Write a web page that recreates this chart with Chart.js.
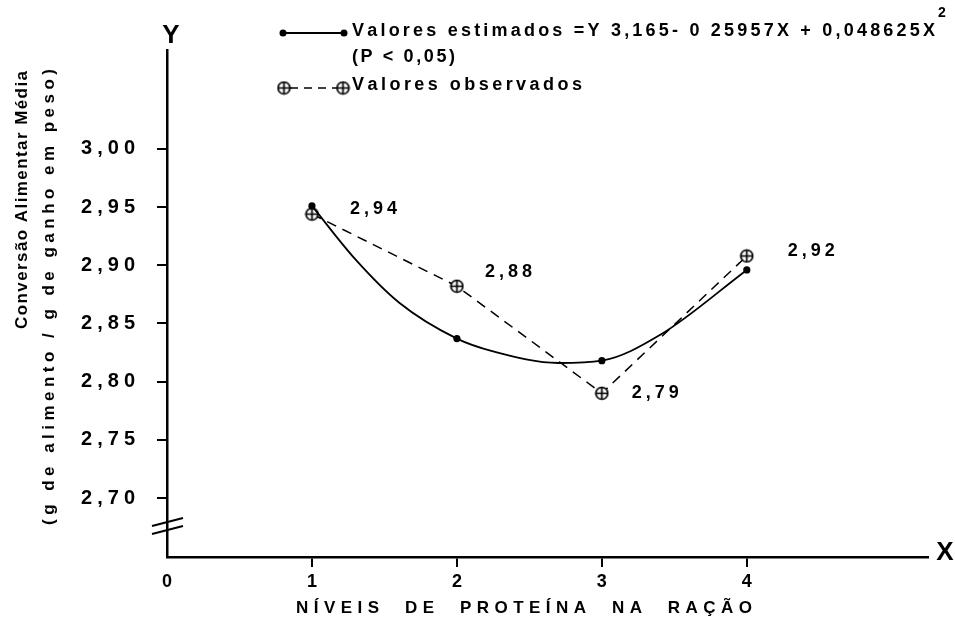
<!DOCTYPE html>
<html>
<head>
<meta charset="utf-8">
<script src="https://cdn.jsdelivr.net/npm/chart.js@4.4.1/dist/chart.umd.min.js"></script>
<style>
html,body{margin:0;padding:0;background:#fff;overflow:hidden;}
#c{display:block;}
</style>
</head>
<body>
<canvas id="c" width="955" height="629"></canvas>
<script>
// ---- data ----
const xLevels = [1, 2, 3, 4];
const estimated = [2.951, 2.837, 2.818, 2.896];
const observed = [2.944, 2.882, 2.790, 2.908];
const observedLabels = ['2,94', '2,88', '2,79', '2,92'];
// points
const curveX = [1, 1.3, 1.6, 2, 2.25, 2.7, 3, 3.4, 4];
const curveY = [2.951, 2.905, 2.868, 2.837, 2.826, 2.816, 2.818, 2.840, 2.896];
const xTickValues = [0, 1, 2, 3, 4];
const yTickValues = [2.70, 2.75, 2.80, 2.85, 2.90, 2.95, 3.00];
const yTickLabels = ['2,70', '2,75', '2,80', '2,85', '2,90', '2,95', '3,00'];
const legendEstimated = 'Valores estimados =Y 3,165- 0 25957X + 0,048625X';
const legendP = '(P < 0,05)';
const legendObserved = 'Valores observados';
const yTitle1 = 'Conversão Alimentar Média';
const yTitle2 = '(g de alimento / g de ganho em peso)';
const xTitle = 'NÍVEIS  DE  PROTEÍNA  NA  RAÇÃO';

const FONT = '"Liberation Sans", Arial, sans-serif';

// crossed-circle marker
function makeMarker(size) {
  const m = document.createElement('canvas');
  m.width = size; m.height = size;
  const g = m.getContext('2d');
  const c = size / 2, r = size / 2 - 1.5;
  g.strokeStyle = '#000'; g.lineWidth = 1.7;
  g.fillStyle = '#fff';
  g.beginPath(); g.arc(c, c, r, 0, Math.PI * 2); g.fill(); g.stroke();
  g.beginPath();
  g.moveTo(c, c - r); g.lineTo(c, c + r);
  g.moveTo(c - r, c); g.lineTo(c + r, c);
  g.stroke();
  return m;
}
const obsMarker = makeMarker(15);

function spaced(ctx, text, x, y, width, align) {
  const chars = [...text];
  const ws = chars.map(ch => ctx.measureText(ch).width);
  const total = ws.reduce((a, b) => a + b, 0);
  const gap = chars.length > 1 ? (width - total) / (chars.length - 1) : 0;
  let s = align === 'right' ? x - width : (align === 'center' ? x - width / 2 : x);
  ctx.textAlign = 'left';
  chars.forEach((ch, i) => { ctx.fillText(ch, s, y); s += ws[i] + gap; });
}

const decor = {
  id: 'decor',
  afterDraw(chart) {
    const ctx = chart.ctx;
    const xs = chart.scales.x, ys = chart.scales.y;
    ctx.save();
    ctx.fillStyle = '#000';
    ctx.strokeStyle = '#000';
    ctx.textBaseline = 'middle';

    // y tick labels
    ctx.font = 'bold 20px ' + FONT;
    yTickValues.forEach((v, i) => {
      spaced(ctx, yTickLabels[i], 135, ys.getPixelForValue(v), 54, 'right');
    });

    // axis break
    const ax = xs.left;
    ctx.lineWidth = 2;
    ctx.beginPath();
    ctx.moveTo(ax - 15, 526); ctx.lineTo(ax + 16, 518);
    ctx.moveTo(ax - 15, 534); ctx.lineTo(ax + 16, 526);
    ctx.stroke();

    // axis letters
    ctx.font = 'bold 26px ' + FONT;
    ctx.textAlign = 'center';
    ctx.fillText('Y', ax + 4, 36);
    ctx.fillText('X', 945, 553);

    // x title
    ctx.font = 'bold 17px ' + FONT;
    spaced(ctx, xTitle, 296, 608, 456, 'left');

    // y titles
    ctx.font = 'bold 17px ' + FONT;
    ctx.save();
    ctx.translate(22, 200); ctx.rotate(-Math.PI / 2);
    spaced(ctx, yTitle1, 0, 0, 258, 'center');
    ctx.restore();
    ctx.save();
    ctx.translate(49, 297); ctx.rotate(-Math.PI / 2);
    spaced(ctx, yTitle2, 0, 0, 456, 'center');
    ctx.restore();

    // legend
    ctx.lineWidth = 2;
    ctx.beginPath(); ctx.moveTo(283, 33); ctx.lineTo(344, 33); ctx.stroke();
    [283, 344].forEach(px => { ctx.beginPath(); ctx.arc(px, 33, 3.5, 0, Math.PI * 2); ctx.fill(); });
    ctx.lineWidth = 1.7;
    ctx.setLineDash([8, 6]);
    ctx.beginPath(); ctx.moveTo(290, 88); ctx.lineTo(337, 88); ctx.stroke();
    ctx.setLineDash([]);
    ctx.drawImage(obsMarker, 284 - 7.5, 88 - 7.5);
    ctx.drawImage(obsMarker, 343 - 7.5, 88 - 7.5);

    ctx.font = 'bold 18px ' + FONT;
    spaced(ctx, legendEstimated, 352, 31, 583, 'left');
    spaced(ctx, legendP, 352, 57, 103, 'left');
    spaced(ctx, legendObserved, 352, 85, 230, 'left');
    ctx.font = 'bold 14px ' + FONT;
    ctx.textAlign = 'left';
    ctx.fillText('2', 938, 13);

    // observed value labels
    const meta = chart.getDatasetMeta(2);
    const offs = [[38, -5], [28, -14], [30, 0], [41, -5]];
    ctx.font = 'bold 18px ' + FONT;
    meta.data.forEach((pt, i) => {
      spaced(ctx, observedLabels[i], pt.x + offs[i][0], pt.y + offs[i][1], 47, 'left');
    });
    ctx.restore();
  }
};

new Chart(document.getElementById('c'), {
  type: 'line',
  data: {
    datasets: [
      {
        label: 'curve',
        data: curveX.map((x, i) => ({ x, y: curveY[i] })),
        borderColor: '#000',
        borderWidth: 1.8,
        cubicInterpolationMode: 'monotone',
        pointRadius: 0
      },
      {
        label: 'Valores estimados',
        data: xLevels.map((x, i) => ({ x, y: estimated[i] })),
        showLine: false,
        pointRadius: 3.6,
        pointStyle: 'circle',
        pointBackgroundColor: '#000',
        pointBorderWidth: 0
      },
      {
        label: 'Valores observados',
        data: xLevels.map((x, i) => ({ x, y: observed[i] })),
        borderColor: '#000',
        borderWidth: 1.5,
        borderDash: [10, 7],
        tension: 0,
        pointStyle: obsMarker,
        pointRadius: 7
      }
    ]
  },
  options: {
    responsive: false,
    animation: false,
    devicePixelRatio: 1,
    layout: { padding: { left: 0, top: 50, right: 27, bottom: 0 } },
    plugins: { legend: { display: false }, tooltip: { enabled: false } },
    scales: {
      x: {
        type: 'linear',
        min: 0,
        max: 5.25,
        afterBuildTicks: s => { s.ticks = xTickValues.map(v => ({ value: v })); },
        afterFit: s => { s.height = 72; },
        border: { display: true, color: '#000', width: 2.5 },
        grid: {
          display: true, drawOnChartArea: false, drawTicks: true, tickLength: 10,
          color: c => (c.tick && c.tick.value === 0 ? 'rgba(0,0,0,0)' : '#000'),
          lineWidth: 2
        },
        ticks: {
          color: '#000', padding: 4, maxRotation: 0, autoSkip: false,
          font: { family: FONT, size: 18, weight: 'bold' }
        }
      },
      y: {
        type: 'linear',
        min: 2.6493,
        max: 3.085,
        afterBuildTicks: s => { s.ticks = yTickValues.map(v => ({ value: v })); },
        afterFit: s => { s.width = 167; },
        border: { display: true, color: '#000', width: 2.5 },
        grid: {
          display: true, drawOnChartArea: false, drawTicks: true, tickLength: 10,
          color: '#000', lineWidth: 2
        },
        ticks: { display: false }
      }
    }
  },
  plugins: [decor]
});
</script>
</body>
</html>
